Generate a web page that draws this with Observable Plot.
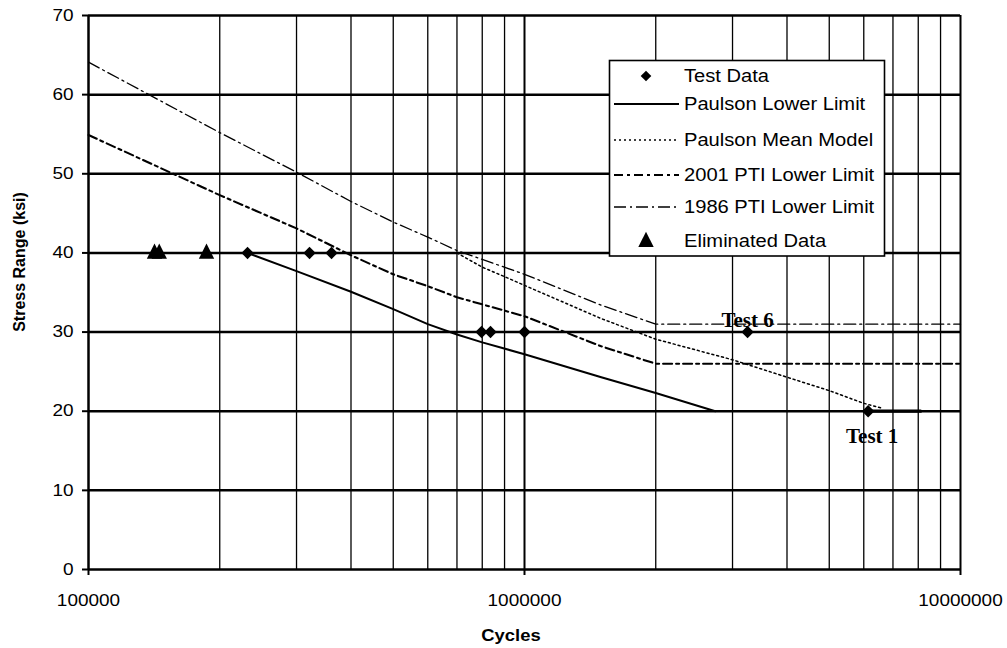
<!DOCTYPE html>
<html><head><meta charset="utf-8">
<script src="https://cdn.jsdelivr.net/npm/d3@7"></script>
<script src="https://cdn.jsdelivr.net/npm/@observablehq/plot@0.6"></script>
<style>
html,body{margin:0;padding:0;background:#fff;}
g[aria-label^="x-axis"] line, g[aria-label^="y-axis"] line,
g[aria-label="x-axis tick"] path, g[aria-label="y-axis tick"] path { stroke-width: 2; stroke: #000; }
</style></head><body><div id="chart"></div><script>
// ---- data ----
const xTickValues = [100000, 1000000, 10000000];
const yTickValues = [0, 10, 20, 30, 40, 50, 60, 70];
const xGridValues = [200000, 300000, 400000, 500000, 600000, 700000, 800000, 900000,
  1000000, 2000000, 3000000, 4000000, 5000000, 6000000, 7000000, 8000000, 9000000];

const testCycles = [231600, 321300, 360900, 797000, 835600, 1000000, 3248000, 6140000];
const testStress = [40, 40, 40, 30, 30, 30, 30, 20];

const elimCycles = [141700, 145300, 186500];
const elimStress = [40, 40, 40];

const lowerCycles = [231600, 300000, 400000, 500000, 600000, 700000, 800000, 1000000, 1500000, 2000000, 2740000];
const lowerStress = [40, 37.7, 35.1, 32.9, 31.0, 29.7, 28.7, 27.2, 24.3, 22.3, 20];

const meanCycles = [700000, 800000, 900000, 1000000, 1500000, 2000000, 3000000, 4000000, 5000000, 6000000, 6600000];
const meanStress = [40, 38.2, 37.0, 35.9, 31.7, 29.1, 26.5, 24.3, 22.6, 21.0, 20.4];

const pti2001Cycles = [100000, 200000, 300000, 400000, 500000, 600000, 700000, 1000000, 1500000, 2000000, 10000000];
const pti2001Stress = [54.9, 47.3, 43.1, 39.7, 37.3, 35.8, 34.4, 32.0, 28.2, 26.0, 26.0];

const pti1986Cycles = [100000, 200000, 300000, 400000, 500000, 600000, 700000, 1000000, 1500000, 2000000, 10000000];
const pti1986Stress = [64.1, 55.2, 50.2, 46.5, 43.9, 42.0, 40.3, 37.3, 33.4, 31.0, 31.0];

const runoutCycles = [6140000, 8100000];
const runoutStress = [20, 20];

const noteText = ["Test 6", "Test 1"];
const noteCycles = [3248000, 6140000];
const noteStress = [30, 20];
const noteDx = [0, 4];
const noteDy = [-17, 20];

const legendLabels = ["Test Data", "Paulson Lower Limit", "Paulson Mean Model",
  "2001 PTI Lower Limit", "1986 PTI Lower Limit", "Eliminated Data"];
const xLabel = "Cycles";
const yLabel = "Stress Range (ksi)";

// ---- helpers ----
const toRows = (xs, ys) => xs.map((x, i) => ({x, y: ys[i]}));
const diamondSym = {draw(ctx, size) { const r = Math.sqrt(size / Math.PI);
  ctx.moveTo(0, -r); ctx.lineTo(r, 0); ctx.lineTo(0, r); ctx.lineTo(-r, 0); ctx.closePath(); }};
const triangleSym = {draw(ctx, size) { const r = Math.sqrt(size / Math.PI);
  ctx.moveTo(0, -1.7 * r); ctx.lineTo(1.4 * r, 1.07 * r); ctx.lineTo(-1.4 * r, 1.07 * r); ctx.closePath(); }};

const styles = {
  lower: {stroke: "#000", strokeWidth: 2},
  mean: {stroke: "#000", strokeWidth: 1.5, strokeDasharray: "2,3"},
  p2001: {stroke: "#000", strokeWidth: 2.1, strokeDasharray: "9,4,3,4"},
  p1986: {stroke: "#000", strokeWidth: 1.3, strokeDasharray: "12,4,2,4"}
};
const diamondR = 6.2, triangleR = 5.5;

const notes = noteText.map((t, i) => ({t, x: noteCycles[i], y: noteStress[i]}));

const chart = Plot.plot({
  width: 1007, height: 648,
  marginLeft: 88, marginRight: 47, marginTop: 15, marginBottom: 79,
  style: {fontFamily: "'Liberation Sans', Arial, sans-serif", fontSize: "16.5px", color: "#000", background: "#fff"},
  x: {type: "log", domain: [1e5, 1e7], ticks: xTickValues, tickFormat: d => String(d), tickSize: 6, tickPadding: 19, label: null},
  y: {domain: [0, 70], ticks: yTickValues, tickSize: 6, tickPadding: 9, label: null},
  marks: [
    Plot.ruleX(xGridValues, {stroke: "#000", strokeWidth: d => d === 1000000 ? 2 : 1.3}),
    Plot.ruleY(yTickValues, {stroke: "#000", strokeWidth: 2.5}),
    Plot.ruleX([xTickValues[0]], {stroke: "#000", strokeWidth: 2.5}),
    Plot.ruleX([xTickValues[2]], {stroke: "#000", strokeWidth: 2}),
    Plot.line(toRows(pti1986Cycles, pti1986Stress), {x: "x", y: "y", ...styles.p1986}),
    Plot.line(toRows(pti2001Cycles, pti2001Stress), {x: "x", y: "y", ...styles.p2001}),
    Plot.line(toRows(meanCycles, meanStress), {x: "x", y: "y", ...styles.mean}),
    Plot.line(toRows(lowerCycles, lowerStress), {x: "x", y: "y", ...styles.lower}),
    Plot.line(toRows(runoutCycles, runoutStress), {x: "x", y: "y", stroke: "#000", strokeWidth: 3.2}),
    Plot.dot(toRows(testCycles, testStress), {x: "x", y: "y", symbol: diamondSym, r: diamondR, fill: "#000", stroke: "none"}),
    Plot.dot(toRows(elimCycles, elimStress), {x: "x", y: "y", symbol: triangleSym, r: triangleR, fill: "#000", stroke: "none"}),
    Plot.text(notes, {x: "x", y: "y", text: "t",
      fontFamily: "'Liberation Serif', 'Times New Roman', serif", fontWeight: "bold", fontSize: 21, fill: "#000"})
  ]
});
document.getElementById("chart").append(chart);
const svg = d3.select(chart);

// per-note offsets
svg.selectAll("text").each(function() {
  const i = noteText.indexOf(this.textContent);
  if (i >= 0) d3.select(this).attr("dx", noteDx[i]).attr("dy", noteDy[i]).attr("dominant-baseline", "middle");
});

// axis titles
const fam = "'Liberation Sans', Arial, sans-serif";
svg.append("text").attr("x", 511).attr("y", 635).attr("dy", "0.35em").attr("text-anchor", "middle")
  .attr("font-family", fam).attr("font-weight", "bold").attr("font-size", 16).attr("fill", "#000").text(xLabel);
svg.append("text").attr("transform", "translate(19,262) rotate(-90)").attr("dy", "0.35em").attr("text-anchor", "middle")
  .attr("font-family", fam).attr("font-weight", "bold").attr("font-size", 16).attr("fill", "#000").text(yLabel);

// ---- legend ----
const lg = svg.append("g").attr("class", "legend");
const box = {x: 609.5, y: 60.5, w: 275, h: 195.5};
lg.append("rect").attr("x", box.x).attr("y", box.y).attr("width", box.w).attr("height", box.h)
  .attr("fill", "#fff").attr("stroke", "#000").attr("stroke-width", 1.6);
const rowY = [76, 104, 140, 175, 207, 241];
const sampleX0 = 614, sampleX1 = 679, markX = 646, textX = 684;
legendLabels.forEach((lab, i) => {
  const y = rowY[i];
  if (i === 0) {
    lg.append("path").attr("d", d3.symbol(diamondSym, Math.PI * 5.3 * 5.3)()).attr("transform", `translate(${markX},${y})`).attr("fill", "#000");
  } else if (i === 5) {
    lg.append("path").attr("d", d3.symbol(triangleSym, Math.PI * 5.5 * 5.5)()).attr("transform", `translate(${markX},${y})`).attr("fill", "#000");
  } else {
    const st = [styles.lower, styles.mean, styles.p2001, styles.p1986][i - 1];
    lg.append("line").attr("x1", sampleX0).attr("x2", sampleX1).attr("y1", y).attr("y2", y)
      .attr("stroke", "#000").attr("stroke-width", st.strokeWidth).attr("stroke-dasharray", st.strokeDasharray || null);
  }
  lg.append("text").attr("x", textX).attr("y", y).attr("dy", "0.35em").attr("font-size", 17.5)
    .attr("text-anchor", "start").attr("font-family", fam).attr("fill", "#000").text(lab);
});

// horizontal stretch of sans-serif labels to match the reference's wide lettering
const noStretch = new Set([yLabel, ...noteText]);
chart.querySelectorAll("text").forEach(t => {
  if (noStretch.has(t.textContent)) return;
  const L = t.getComputedTextLength();
  if (L > 0) { t.setAttribute("textLength", (L * 1.15).toFixed(1)); t.setAttribute("lengthAdjust", "spacingAndGlyphs"); }
});
</script></body></html>
